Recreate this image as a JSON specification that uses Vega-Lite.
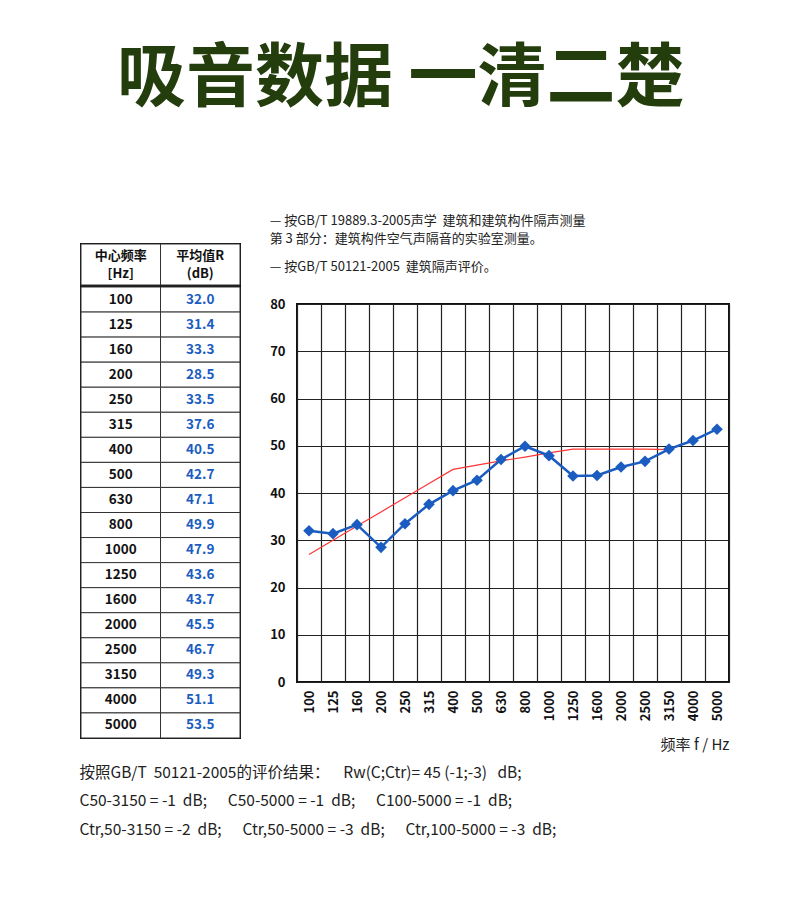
{
  "$schema": "https://vega.github.io/schema/vega-lite/v6.json",
  "background": "white",
  "padding": {"left": 79, "top": 46, "right": 5, "bottom": 5},
  "config": {
    "font": "Noto Sans CJK SC",
    "view": {"stroke": "#111", "strokeWidth": 2},
    "axis": {"labelColor": "#111", "titleColor": "#222"}
  },
  "title": {
    "text": "吸音数据 一清二楚",
    "fontSize": 69,
    "fontWeight": "bold",
    "color": "#243d0c",
    "anchor": "middle",
    "dx": -4,
    "offset": 98
  },
  "datasets": {
    "measure": [
      {"f": "100", "R": 32.0, "ref": 27},
      {"f": "125", "R": 31.4, "ref": 30},
      {"f": "160", "R": 33.3, "ref": 33},
      {"f": "200", "R": 28.5, "ref": 36},
      {"f": "250", "R": 33.5, "ref": 39},
      {"f": "315", "R": 37.6, "ref": 42},
      {"f": "400", "R": 40.5, "ref": 45},
      {"f": "500", "R": 42.7, "ref": 45.9},
      {"f": "630", "R": 47.1, "ref": 46.8},
      {"f": "800", "R": 49.9, "ref": 47.6},
      {"f": "1000", "R": 47.9, "ref": 48.5},
      {"f": "1250", "R": 43.6, "ref": 49.3},
      {"f": "1600", "R": 43.7, "ref": 49.3},
      {"f": "2000", "R": 45.5, "ref": 49.3},
      {"f": "2500", "R": 46.7, "ref": 49.3},
      {"f": "3150", "R": 49.3, "ref": 49.2},
      {"f": "4000", "R": 51.1, "ref": null},
      {"f": "5000", "R": 53.5, "ref": null}
    ],
    "header": [
      {"col": "f", "h": "中心频率\n[Hz]"},
      {"col": "R", "h": "平均值R\n(dB)"}
    ]
  },
  "vconcat": [
    {
      "title": {
        "text": [
          "按照GB/T\u00a0\u00a050121-2005的评价结果：\u00a0\u00a0\u00a0\u00a0Rw(C;Ctr)=\u00a045\u00a0(-1;-3)\u00a0\u00a0\u00a0dB;",
          "C50-3150\u00a0=\u00a0-1\u00a0\u00a0dB;\u00a0\u00a0\u00a0\u00a0\u00a0\u00a0C50-5000\u00a0=\u00a0-1\u00a0\u00a0dB;\u00a0\u00a0\u00a0\u00a0\u00a0\u00a0C100-5000\u00a0=\u00a0-1\u00a0\u00a0dB;",
          "Ctr,50-3150\u00a0=\u00a0-2\u00a0\u00a0dB;\u00a0\u00a0\u00a0\u00a0\u00a0\u00a0Ctr,50-5000\u00a0=\u00a0-3\u00a0\u00a0dB;\u00a0\u00a0\u00a0\u00a0\u00a0\u00a0Ctr,100-5000\u00a0=\u00a0-3\u00a0\u00a0dB;"
        ],
        "orient": "bottom",
        "anchor": "start",
        "frame": "bounds",
        "fontSize": 15.5,
        "fontWeight": "normal",
        "lineHeight": 28.5,
        "color": "#222",
        "offset": 12
      },
      "spacing": 26,
      "hconcat": [
        {
          "spacing": -2,
          "vconcat": [
            {
              "width": 159,
              "height": 31,
              "view": {"stroke": null, "fill": null},
              "data": {"values": []},
              "mark": {"type": "rect"},
              "encoding": {}
            },
            {
              "width": 159,
              "height": 41,
              "data": {"name": "header"},
              "encoding": {
                "x": {"field": "col", "type": "nominal", "sort": ["f", "R"], "axis": null,
                      "scale": {"type": "band", "paddingInner": 0, "paddingOuter": 0}}
              },
              "layer": [
                {"mark": {"type": "rect", "fill": "white", "stroke": "#333", "strokeWidth": 1}},
                {"mark": {"type": "text", "fontSize": 13, "fontWeight": "bold", "color": "#111",
                          "lineBreak": "\n", "lineHeight": 17.5, "baseline": "middle", "dy": -8.5},
                 "encoding": {"text": {"field": "h"}}}
              ]
            },
            {
              "width": 159,
              "height": 451,
              "data": {"name": "measure"},
              "encoding": {
                "y": {"field": "f", "type": "ordinal", "sort": null, "axis": null,
                      "scale": {"type": "band", "paddingInner": 0, "paddingOuter": 0}}
              },
              "layer": [
                {"mark": {"type": "rect", "fill": "white", "stroke": "#333", "strokeWidth": 1},
                 "encoding": {"x": {"datum": "f", "type": "nominal", "axis": null,
                                    "scale": {"type": "band", "domain": ["f", "R"], "paddingInner": 0, "paddingOuter": 0}}}},
                {"mark": {"type": "rect", "fill": "white", "stroke": "#333", "strokeWidth": 1},
                 "encoding": {"x": {"datum": "R", "type": "nominal"}}},
                {"mark": {"type": "text", "fontSize": 13.5, "fontWeight": "bold", "color": "#111", "baseline": "middle"},
                 "encoding": {"x": {"datum": "f", "type": "nominal"}, "text": {"field": "f"}}},
                {"mark": {"type": "text", "fontSize": 13.5, "fontWeight": "bold", "color": "#1a5cbf", "baseline": "middle"},
                 "encoding": {"x": {"datum": "R", "type": "nominal"}, "text": {"field": "R", "format": ".1f"}}}
              ]
            }
          ]
        },
        {
          "spacing": 0,
          "vconcat": [
            {
              "width": 432,
              "height": 1,
              "view": {"stroke": null, "fill": null},
              "data": {"values": []},
              "mark": {"type": "rect"},
              "encoding": {}
            },
            {
              "width": 432,
              "height": 378,
              "data": {"name": "measure"},
              "title": {
                "text": [
                  "—\u00a0按GB/T\u00a019889.3-2005声学\u00a0\u00a0建筑和建筑构件隔声测量",
                  "\u3000\u00a0第\u00a03\u00a0部分：建筑构件空气声隔音的实验室测量。"
                ],
                "subtitle": "—\u00a0按GB/T\u00a050121-2005\u00a0\u00a0建筑隔声评价。",
                "anchor": "start",
                "frame": "bounds",
                "fontSize": 13,
                "fontWeight": "normal",
                "lineHeight": 18,
                "color": "#222",
                "subtitleFontSize": 13,
                "subtitleColor": "#222",
                "subtitleFont": "Noto Sans CJK SC",
                "subtitlePadding": 15,
                "offset": 24
              },
              "encoding": {
                "x": {
                  "field": "f", "type": "ordinal", "sort": null,
                  "scale": {"type": "band", "paddingInner": 0, "paddingOuter": 0},
                  "axis": {
                    "title": "频率 f / Hz",
                    "titleAnchor": "end",
                    "titleFontWeight": "normal",
                    "titleFontSize": 15,
                    "titlePadding": 17,
                    "labelAngle": -90,
                    "labelFontWeight": "bold",
                    "labelFontSize": 13,
                    "labelPadding": 8,
                    "ticks": false,
                    "tickBand": "extent",
                    "grid": true,
                    "gridColor": "#222",
                    "gridWidth": 1.2,
                    "gridOpacity": 1,
                    "domain": false
                  }
                }
              },
              "layer": [
                {
                  "mark": {"type": "line", "color": "#ff3535", "strokeWidth": 1.2},
                  "encoding": {
                    "y": {
                      "field": "ref", "type": "quantitative",
                      "scale": {"domain": [0, 80], "nice": false},
                      "axis": {
                        "title": null,
                        "values": [0, 10, 20, 30, 40, 50, 60, 70, 80],
                        "grid": true,
                        "gridColor": "#222",
                        "gridWidth": 1.2,
                        "gridOpacity": 1,
                        "ticks": false,
                        "domain": false,
                        "labelFontWeight": "bold",
                        "labelFontSize": 13,
                        "labelPadding": 12
                      }
                    }
                  }
                },
                {
                  "mark": {
                    "type": "line", "color": "#1a5cbf", "strokeWidth": 2.5,
                    "point": {"shape": "diamond", "size": 135, "filled": true, "color": "#1a5cbf", "opacity": 1}
                  },
                  "encoding": {"y": {"field": "R", "type": "quantitative"}}
                }
              ]
            }
          ]
        }
      ]
    }
  ]
}
